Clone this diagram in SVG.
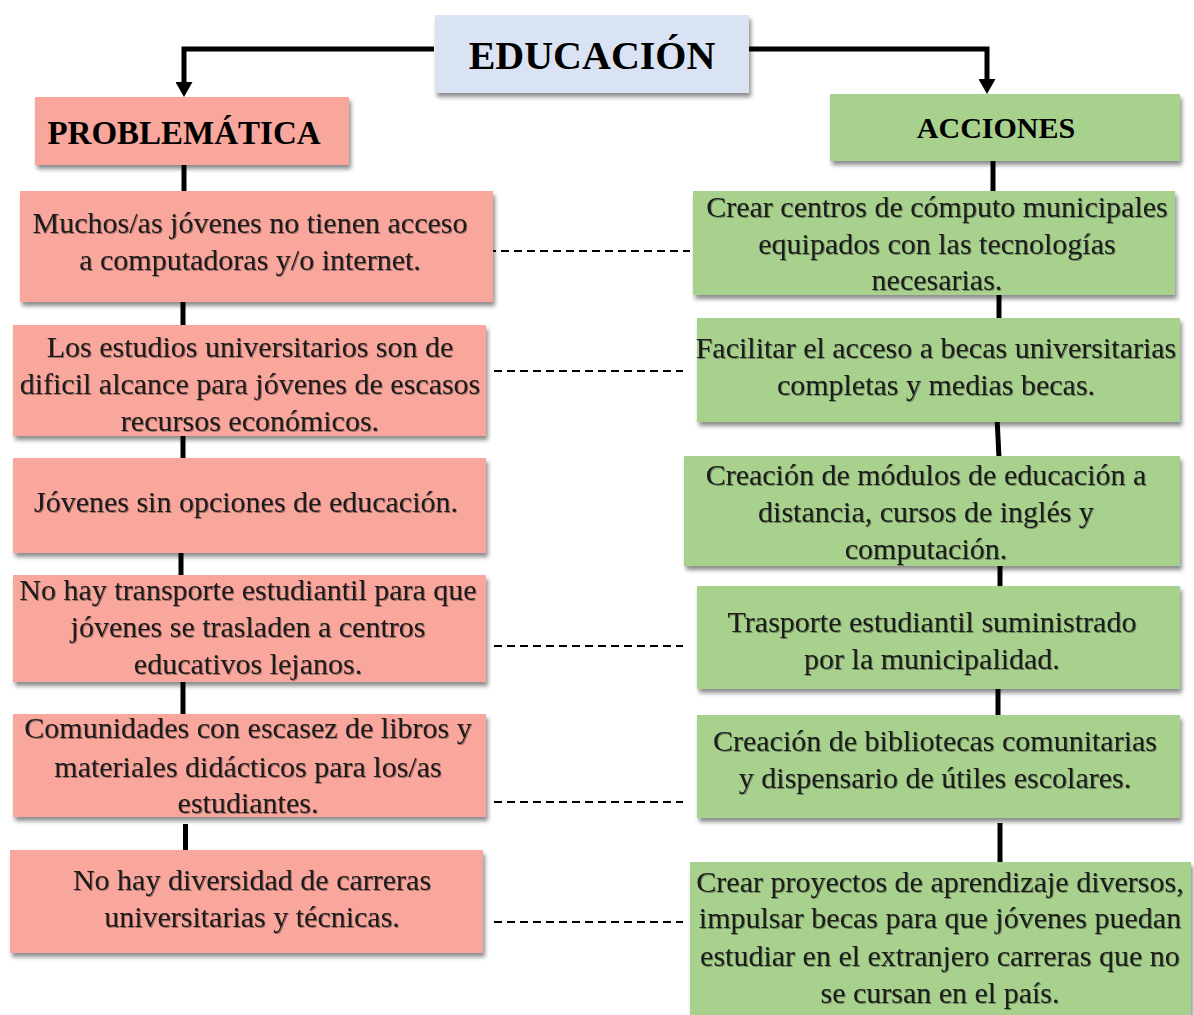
<svg xmlns="http://www.w3.org/2000/svg" width="1194" height="1015" viewBox="0 0 1194 1015">
<defs>
<filter id="sh" x="-5%" y="-10%" width="115%" height="135%">
<feDropShadow dx="2" dy="4" stdDeviation="2" flood-color="#000" flood-opacity="0.45"/>
</filter>
<filter id="ts" x="-5%" y="-20%" width="110%" height="150%">
<feDropShadow dx="1" dy="1" stdDeviation="0.6" flood-color="#000" flood-opacity="0.35"/>
</filter>
<marker id="arr" markerUnits="userSpaceOnUse" viewBox="0 0 15 17" markerWidth="15" markerHeight="17" refX="0" refY="8.5" orient="auto">
<path d="M0,0 L15,8.5 L0,17 z" fill="#000"/>
</marker>
<style>
.pink{fill:#f9a69c;filter:url(#sh)}
.green{fill:#a9d18e;filter:url(#sh)}
.blue{fill:#dae3f3;filter:url(#sh)}
.t{font-family:"Liberation Serif","Times New Roman",serif;font-size:30px;fill:#1a1a1a;text-anchor:middle;filter:url(#ts)}
.h{font-family:"Liberation Serif","Times New Roman",serif;font-weight:bold;fill:#000;text-anchor:middle}
.solid{stroke:#000;stroke-width:5;fill:none}
.dash{stroke:#000;stroke-width:2;stroke-dasharray:8 5;fill:none}
</style>
</defs>

<g id="connectors">
<path class="solid" d="M434,49 H184 V82" marker-end="url(#arr)"/>
<path class="solid" d="M749,49 H987 V79" marker-end="url(#arr)"/>
<line class="solid" x1="184" y1="163" x2="184" y2="193"/>
<line class="solid" x1="183" y1="300" x2="183" y2="327"/>
<line class="solid" x1="183" y1="434" x2="183" y2="460"/>
<line class="solid" x1="181" y1="551" x2="181" y2="577"/>
<line class="solid" x1="183" y1="680" x2="183" y2="716"/>
<line class="solid" x1="185.5" y1="824" x2="185.5" y2="852"/>
<line class="solid" x1="993" y1="159" x2="993" y2="193"/>
<line class="solid" x1="999" y1="293" x2="999" y2="320"/>
<line class="solid" x1="997" y1="417" x2="999" y2="458"/>
<line class="solid" x1="1000" y1="564" x2="1000" y2="588"/>
<line class="solid" x1="998" y1="687" x2="998" y2="717"/>
<line class="solid" x1="1000" y1="823" x2="1000" y2="863"/>
<line class="dash" x1="488" y1="251" x2="690" y2="251"/>
<line class="dash" x1="494" y1="371" x2="683" y2="371"/>
<line class="dash" x1="494" y1="646" x2="683" y2="646"/>
<line class="dash" x1="494" y1="802" x2="683" y2="802"/>
<line class="dash" x1="494" y1="922" x2="683" y2="922"/>
</g>

<g id="educacion">
<rect class="blue" x="435" y="15" width="314" height="78"/>
<text class="h" x="592" y="69" font-size="40">EDUCACIÓN</text>
</g>

<g id="problematica">
<rect class="pink" x="35" y="97" width="314" height="68"/>
<text class="h" x="184" y="144" font-size="33">PROBLEMÁTICA</text>
</g>

<g id="acciones">
<rect class="green" x="830" y="94" width="350" height="67"/>
<text class="h" x="996" y="138" font-size="30">ACCIONES</text>
</g>

<g id="p1">
<rect class="pink" x="20" y="191" width="473" height="111"/>
<text class="t" x="250" y="233">Muchos/as jóvenes no tienen acceso</text>
<text class="t" x="250" y="270">a computadoras y/o internet.</text>
</g>

<g id="p2">
<rect class="pink" x="13" y="325" width="473" height="111"/>
<text class="t" x="250" y="357">Los estudios universitarios son de</text>
<text class="t" x="250" y="394">dificil alcance para jóvenes de escasos</text>
<text class="t" x="250" y="431">recursos económicos.</text>
</g>

<g id="p3">
<rect class="pink" x="13" y="458" width="473" height="95"/>
<text class="t" x="246" y="512">Jóvenes sin opciones de educación.</text>
</g>

<g id="p4">
<rect class="pink" x="13" y="575" width="473" height="107"/>
<text class="t" x="248" y="600">No hay transporte estudiantil para que</text>
<text class="t" x="248" y="637">jóvenes se trasladen a centros</text>
<text class="t" x="248" y="674">educativos lejanos.</text>
</g>

<g id="p5">
<rect class="pink" x="13" y="714" width="473" height="103"/>
<text class="t" x="248" y="738">Comunidades con escasez de libros y</text>
<text class="t" x="248" y="777">materiales didácticos para los/as</text>
<text class="t" x="248" y="813">estudiantes.</text>
</g>

<g id="p6">
<rect class="pink" x="10" y="850" width="473" height="103"/>
<text class="t" x="252" y="890">No hay diversidad de carreras</text>
<text class="t" x="252" y="927">universitarias y técnicas.</text>
</g>

<g id="a1">
<rect class="green" x="693" y="191" width="482" height="104"/>
<text class="t" x="937" y="217">Crear centros de cómputo municipales</text>
<text class="t" x="937" y="254">equipados con las tecnologías</text>
<text class="t" x="937" y="290">necesarias.</text>
</g>

<g id="a2">
<rect class="green" x="697" y="318" width="483" height="104"/>
<text class="t" x="936" y="358">Facilitar el acceso a becas universitarias</text>
<text class="t" x="936" y="395">completas y medias becas.</text>
</g>

<g id="a3">
<rect class="green" x="684" y="456" width="496" height="110"/>
<text class="t" x="926" y="485">Creación de módulos de educación a</text>
<text class="t" x="926" y="522">distancia, cursos de inglés y</text>
<text class="t" x="926" y="559">computación.</text>
</g>

<g id="a4">
<rect class="green" x="697" y="586" width="483" height="103"/>
<text class="t" x="932" y="632">Trasporte estudiantil suministrado</text>
<text class="t" x="932" y="669">por la municipalidad.</text>
</g>

<g id="a5">
<rect class="green" x="697" y="715" width="483" height="103"/>
<text class="t" x="935" y="751">Creación de bibliotecas comunitarias</text>
<text class="t" x="935" y="788">y dispensario de útiles escolares.</text>
</g>

<g id="a6">
<rect class="green" x="690" y="862" width="501" height="160"/>
<text class="t" x="940" y="892">Crear proyectos de aprendizaje diversos,</text>
<text class="t" x="940" y="928">impulsar becas para que jóvenes puedan</text>
<text class="t" x="940" y="966">estudiar en el extranjero carreras que no</text>
<text class="t" x="940" y="1003">se cursan en el país.</text>
</g>
</svg>
